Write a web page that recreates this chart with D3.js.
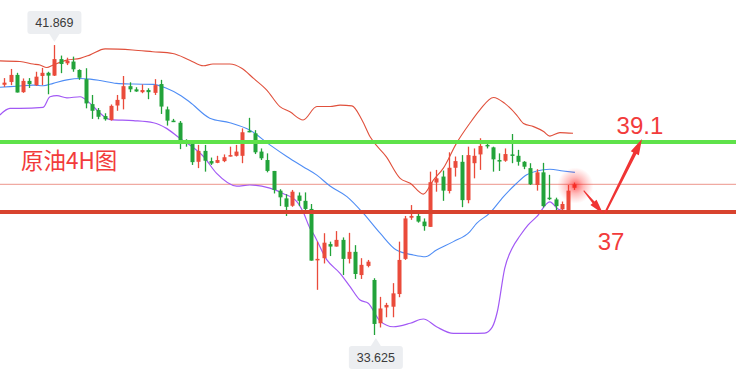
<!DOCTYPE html>
<html><head><meta charset="utf-8">
<script src="https://cdn.jsdelivr.net/npm/d3@7/dist/d3.min.js"></script>
<style>html,body{margin:0;padding:0;background:#fff;}svg{display:block;}</style>
</head><body>
<script>
const open = [40.74,40.82,41.02,40.53,40.85,40.73,40.99,41.08,41.00,41.47, 41.35,41.40,41.16,40.90,40.19,40.02,39.85,39.74,40.15,40.33, 40.70,40.61,40.53,40.59,40.51,40.76,40.04,39.72,39.66,39.17, 39.06,38.55,38.86,38.57,38.52,38.57,38.70,38.72,38.72,39.43, 39.36,38.84,38.60,38.29,37.73,37.51,37.30,37.59,37.44,37.21, 35.76,35.81,36.21,36.14,36.33,35.79,35.99,35.33,35.59,35.19, 33.96,34.41,34.43,34.79,35.79,36.96,37.01,36.85,36.70,37.96, 38.13,37.72,38.38,38.55,37.46,38.51,38.76,39.03,38.96,38.60, 38.58,38.76,38.72,38.55,38.37,37.89,38.25,37.53,37.48,37.20, 37.18,37.81];
const high = [40.93,41.19,41.08,40.92,40.93,41.11,41.22,41.11,41.869,41.57, 41.51,41.54,41.18,41.21,40.45,40.08,39.93,40.18,40.45,40.99, 40.81,40.67,40.75,40.64,40.90,40.88,40.12,39.77,39.71,39.19, 39.12,39.03,39.03,38.67,38.72,38.76,38.98,39.03,39.50,39.80, 39.45,38.93,38.79,38.29,37.77,37.63,37.75,37.68,37.68,37.35, 36.28,36.52,36.28,36.58,36.40,36.53,36.18,35.81,35.76,35.24, 34.71,34.54,35.10,36.28,37.01,37.32,37.07,36.94,38.27,38.32, 38.30,38.82,38.70,38.74,38.98,38.93,39.22,39.08,38.98,38.79, 38.93,39.34,38.89,38.57,38.51,38.34,38.52,38.18,37.53,37.42, 37.89,37.96];
const low = [40.68,40.73,40.52,40.51,40.65,40.71,40.73,40.47,40.99,41.07, 41.30,41.11,40.88,40.07,39.77,39.76,39.72,39.72,40.00,40.04, 40.53,40.54,40.50,40.33,40.45,39.91,39.58,39.68,38.91,38.98, 38.46,38.37,38.27,38.46,38.51,38.54,38.70,38.70,38.51,39.39, 38.77,38.60,38.25,37.65,37.29,37.01,37.27,37.29,37.13,35.74, 34.91,35.66,35.87,36.14,35.33,35.66,35.22,35.22,35.55,33.625, 33.84,34.13,34.13,34.70,35.76,36.90,36.82,36.59,36.70,37.70, 37.44,37.65,38.13,37.26,37.37,38.08,38.32,38.93,38.27,38.29, 38.55,38.51,38.44,38.34,37.89,37.73,37.25,37.46,37.09,37.16, 37.18,37.75];
const close = [40.80,41.02,40.52,40.85,40.76,40.97,41.08,41.00,41.47,41.33, 41.42,41.18,40.94,40.21,40.00,39.83,39.76,40.14,40.31,40.70, 40.61,40.55,40.59,40.53,40.73,40.12,39.72,39.69,39.17,39.12, 38.54,38.86,38.58,38.50,38.60,38.68,38.74,38.84,39.39,39.41, 38.82,38.65,38.29,37.75,37.54,37.27,37.70,37.44,37.21,35.74, 35.79,36.25,36.14,36.33,35.79,35.99,35.36,35.62,35.71,33.94, 34.38,34.48,34.81,35.76,36.94,37.01,36.85,36.72,37.97,38.08, 37.73,38.38,38.57,37.46,38.74,38.72,39.00,38.99,38.62,38.58, 38.77,38.74,38.55,38.41,37.91,38.25,37.29,37.50,37.29,37.35, 37.73,37.91];

// Bollinger bands: [candle index, price]
const upperBand = [[-0.7,41.42],[2.5,41.40],[4.6,41.33],[5.7,41.30],[6.8,41.23],[7.8,41.30],[10.0,41.44],[12.1,41.49],[13.7,41.59],[16.1,41.76],[20.5,41.73],[23.7,41.68],[26.9,41.63],[29.6,41.44],[31.8,41.28],[33.3,41.33],[36.0,41.33],[37.9,41.21],[39.8,40.92],[41.9,40.59],[44.0,40.12],[45.6,39.97],[47.7,39.74],[49.9,40.12],[52.0,40.12],[53.6,40.16],[55.5,40.14],[57.1,39.74],[58.4,39.26],[61.0,38.69],[63.2,38.08],[64.8,37.94],[66.9,37.63],[68.5,38.03],[70.1,38.37],[72.2,39.08],[74.3,39.64],[75.9,40.02],[78.1,40.38],[79.9,40.21],[81.8,39.88],[82.9,39.64],[84.5,39.55],[86.1,39.41],[87.1,39.28],[88.7,39.38],[90.8,39.36]];
const middleBand = [[-0.7,40.67],[2.0,40.70],[4.6,40.73],[6.2,40.71],[7.8,40.78],[10.0,40.88],[12.1,40.92],[13.7,40.90],[15.3,40.86],[17.9,40.78],[20.6,40.76],[23.8,40.75],[25.9,40.64],[28.0,40.45],[29.6,40.25],[32.8,39.79],[36.0,39.66],[39.2,39.45],[42.4,39.03],[45.1,38.70],[47.7,38.41],[49.9,38.17],[52.0,37.86],[54.7,37.56],[57.3,37.09],[60.0,36.52],[62.6,36.04],[65.3,35.90],[67.2,35.85],[69.0,36.04],[71.7,36.28],[74.3,36.56],[75.4,36.80],[77.5,37.09],[79.7,37.56],[81.8,37.94],[83.4,38.18],[85.0,38.29],[87.1,38.34],[89.2,38.29],[91.1,38.25]];
const lowerBand = [[-0.7,39.88],[0.9,40.07],[2.5,40.07],[6.2,40.10],[7.3,40.40],[8.4,40.43],[10.0,40.37],[12.1,40.40],[13.7,40.21],[15.3,39.93],[16.9,39.75],[20.6,39.72],[23.8,39.66],[25.9,39.50],[28.0,39.22],[29.6,39.03],[31.8,38.70],[33.9,38.22],[37.1,37.86],[39.2,37.89],[42.4,37.80],[44.5,37.65],[46.7,37.42],[47.7,37.13],[48.8,36.66],[49.3,36.52],[51.5,35.76],[53.6,35.38],[55.2,35.00],[56.8,34.62],[58.1,34.53],[60.0,34.02],[62.1,33.86],[64.8,33.96],[66.9,34.08],[69.0,33.86],[71.7,33.67],[74.3,33.67],[76.7,33.68],[77.9,33.85],[78.7,34.28],[79.9,35.53],[81.1,36.10],[82.3,36.44],[83.6,36.75],[85.0,36.99],[87.1,37.41],[88.4,37.21],[89.5,37.15],[91.0,37.11]];

const resistance = 39.11, support = 37.12;
const titleText = "原油4H图";
const targetUp = "39.1", targetDown = "37";
const maxLabel = "41.869", minLabel = "33.625";
const maxIndex = 8, minIndex = 59;
// forecast path: [candle index, price]
const arrowDown = [[92.5,37.73],[95.6,37.07]];
const arrowUp = [[95.9,37.09],[101.8,39.20]];

const W = 736, H = 376;
const x = d3.scaleLinear().domain([0, 91]).range([4.3, 574.3]);
const y = d3.scaleLinear().domain([32.46, 43.15]).range([376, 0]);

const svg = d3.select("body").append("svg").attr("width", W).attr("height", H);
const defs = svg.append("defs");
const rg = defs.append("radialGradient").attr("id","glow");
rg.append("stop").attr("offset","0%").attr("stop-color","#ff1a1a").attr("stop-opacity",0.7);
rg.append("stop").attr("offset","45%").attr("stop-color","#ff2a2a").attr("stop-opacity",0.32);
rg.append("stop").attr("offset","100%").attr("stop-color","#ff4040").attr("stop-opacity",0);

// current price line
svg.append("line").attr("x1",0).attr("x2",W)
  .attr("y1",y(close[91])).attr("y2",y(close[91]))
  .attr("stroke","#f0aaa2").attr("stroke-width",1.2);

const line = d3.line().x(d=>x(d[0])).y(d=>y(d[1])).curve(d3.curveMonotoneX);
svg.append("path").attr("d",line(upperBand)).attr("fill","none").attr("stroke","#e0503c").attr("stroke-width",1.1);
svg.append("path").attr("d",line(middleBand)).attr("fill","none").attr("stroke","#4f8df5").attr("stroke-width",1.1);
svg.append("path").attr("d",line(lowerBand)).attr("fill","none").attr("stroke","#a259f5").attr("stroke-width",1.2);

const red = "#ea4b3b", green = "#22a33a";
const idx = d3.range(open.length);
const g = svg.append("g");
g.selectAll("line.w").data(idx).join("line")
  .attr("x1",i=>Math.round(x(i))+0.5).attr("x2",i=>Math.round(x(i))+0.5)
  .attr("y1",i=>y(high[i])).attr("y2",i=>y(low[i]))
  .attr("stroke",i=>close[i]>=open[i]?red:green).attr("stroke-width",1.3);
g.selectAll("rect").data(idx).join("rect")
  .attr("x",i=>Math.round(x(i))-1.5).attr("width",4)
  .attr("y",i=>y(Math.max(open[i],close[i])))
  .attr("height",i=>Math.max(1.5, Math.abs(y(open[i])-y(close[i]))))
  .attr("fill",i=>close[i]>=open[i]?red:green);

// horizontal levels
svg.append("line").attr("x1",0).attr("x2",W).attr("y1",y(resistance)).attr("y2",y(resistance))
  .attr("stroke","#5fe24a").attr("stroke-width",4);
svg.append("line").attr("x1",0).attr("x2",W).attr("y1",y(support)).attr("y2",y(support))
  .attr("stroke","#d8432e").attr("stroke-width",4);

// glow on last candle
svg.append("circle").attr("cx",x(91)+1).attr("cy",y(high[91])+3).attr("r",18).attr("fill","url(#glow)");

// arrows
function arrow(p0, p1, w0, w1, headLen, headW){
  const x0=x(p0[0]), y0=y(p0[1]), x1=x(p1[0]), y1=y(p1[1]);
  const dx=x1-x0, dy=y1-y0, L=Math.hypot(dx,dy), ux=dx/L, uy=dy/L, nx=-uy, ny=ux;
  const bx=x1-ux*headLen, by=y1-uy*headLen;
  const pts=[[x0+nx*w0/2,y0+ny*w0/2],[bx+nx*w1/2,by+ny*w1/2],[bx+nx*headW/2,by+ny*headW/2],[x1,y1],
    [bx-nx*headW/2,by-ny*headW/2],[bx-nx*w1/2,by-ny*w1/2],[x0-nx*w0/2,y0-ny*w0/2]];
  svg.append("path").attr("d","M"+pts.map(p=>p.join(",")).join("L")+"Z").attr("fill","#f03434");
}
arrow(arrowDown[0], arrowDown[1], 1, 2.5, 15, 8);
arrow(arrowUp[0], arrowUp[1], 2, 3.5, 16, 9);

// texts
const txtRed = "#f23b3b";
svg.append("text").attr("x",21).attr("y",169).text(titleText)
  .attr("font-family","'Noto Sans CJK SC', 'Noto Sans', sans-serif").attr("font-size",22.5).attr("fill",txtRed);
svg.append("text").attr("x",x(arrowUp[1][0])-2).attr("y",134).attr("text-anchor","middle").text(targetUp)
  .attr("font-family","'Liberation Sans', Arial, sans-serif").attr("font-size",24).attr("fill",txtRed);
svg.append("text").attr("x",x(arrowDown[1][0])+8).attr("y",250).attr("text-anchor","middle").text(targetDown)
  .attr("font-family","'Liberation Sans', Arial, sans-serif").attr("font-size",24).attr("fill",txtRed);

// extreme labels
function tip(cx, py, text, above){
  const bw=54, bh=23, gap=3, tri=8;
  const gg=svg.append("g");
  let by, path;
  if(above){
    const tipY = py - gap;
    by = tipY - tri - bh;
    path = `M${cx-bw/2+3},${by} H${cx+bw/2-3} Q${cx+bw/2},${by} ${cx+bw/2},${by+3} V${by+bh-3} Q${cx+bw/2},${by+bh} ${cx+bw/2-3},${by+bh} H${cx+5} L${cx},${tipY} L${cx-5},${by+bh} H${cx-bw/2+3} Q${cx-bw/2},${by+bh} ${cx-bw/2},${by+bh-3} V${by+3} Q${cx-bw/2},${by} ${cx-bw/2+3},${by}Z`;
  } else {
    const tipY = py + gap;
    by = tipY + tri;
    path = `M${cx-bw/2+3},${by} H${cx-5} L${cx},${tipY} L${cx+5},${by} H${cx+bw/2-3} Q${cx+bw/2},${by} ${cx+bw/2},${by+3} V${by+bh-3} Q${cx+bw/2},${by+bh} ${cx+bw/2-3},${by+bh} H${cx-bw/2+3} Q${cx-bw/2},${by+bh} ${cx-bw/2},${by+bh-3} V${by+3} Q${cx-bw/2},${by} ${cx-bw/2+3},${by}Z`;
  }
  gg.append("path").attr("d",path).attr("fill","#eceef1");
  gg.append("text").attr("x",cx).attr("y",by+bh/2+4.5).attr("text-anchor","middle").text(text)
    .attr("font-family","'Liberation Sans', Arial, sans-serif").attr("font-size",12.5).attr("fill","#3a3a3a");
}
tip(x(maxIndex), y(high[maxIndex]), maxLabel, true);
tip(x(minIndex)+2, y(low[minIndex]), minLabel, false);
</script>
</body></html>
